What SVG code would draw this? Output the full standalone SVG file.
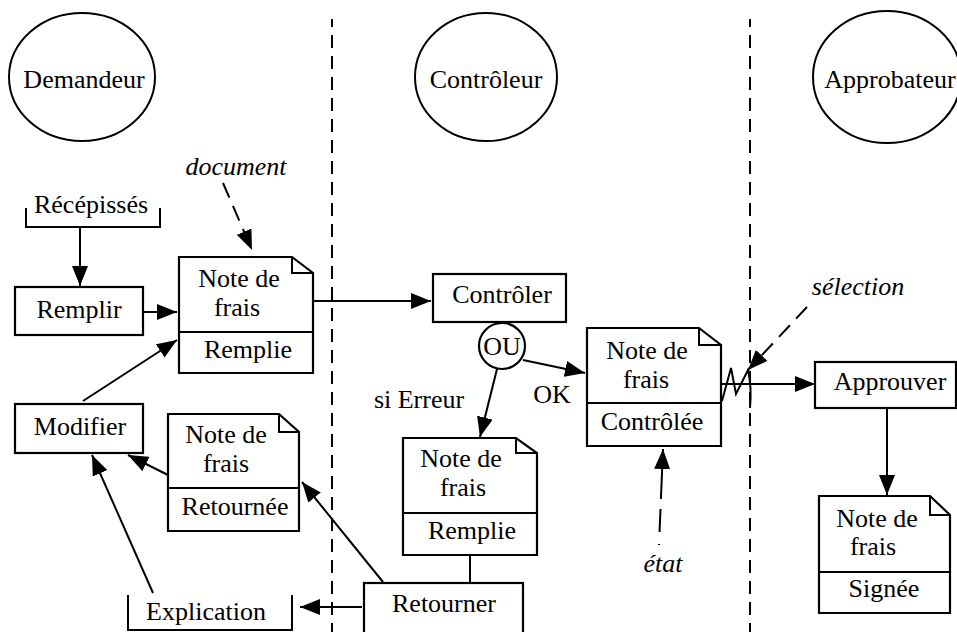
<svg xmlns="http://www.w3.org/2000/svg" width="957" height="632" viewBox="0 0 957 632">
<style>
text{font-family:"Liberation Serif","Times New Roman",serif;font-size:26px;fill:#000;text-anchor:middle}
.it{font-style:italic}
.s{fill:none;stroke:#000;stroke-width:2}
.b{fill:#fff;stroke:#000;stroke-width:2.2}
.lane{stroke:#000;stroke-width:2;stroke-dasharray:13 8;stroke-dashoffset:5;fill:none}
.c{fill:none;stroke:#000;stroke-width:2}
.d{fill:none;stroke:#000;stroke-width:2;stroke-dasharray:16 9}
</style>
<defs>
<marker id="ah" viewBox="0 0 20 16" refX="20" refY="8" markerWidth="20" markerHeight="16" markerUnits="userSpaceOnUse" orient="auto">
<path d="M0,0 L20,8 L0,16 Z" fill="#000"/>
</marker>
</defs>
<rect width="957" height="632" fill="#fff"/>
<g id="lanes">
<line class="lane" x1="332" y1="19" x2="332" y2="632"/>
<line class="lane" x1="750" y1="19" x2="750" y2="632"/>
</g>
<g id="actor-demandeur"><ellipse class="s" cx="82" cy="77" rx="73" ry="64"/><text x="84" y="88">Demandeur</text></g>
<g id="actor-controleur"><ellipse class="s" cx="486" cy="77" rx="71" ry="64"/><text x="486" y="88">Contrôleur</text></g>
<g id="actor-approbateur"><ellipse class="s" cx="887" cy="77" rx="74" ry="66"/><text x="890" y="88">Approbateur</text></g>

<g id="connectors">
<line class="c" x1="80" y1="227" x2="80" y2="286" marker-end="url(#ah)"/>
<line class="c" x1="143" y1="312" x2="177" y2="312" marker-end="url(#ah)"/>
<line class="c" x1="83" y1="401" x2="177" y2="340" marker-end="url(#ah)"/>
<line class="c" x1="313" y1="301" x2="431" y2="301" marker-end="url(#ah)"/>
<line class="c" x1="523" y1="360" x2="585" y2="373" marker-end="url(#ah)"/>
<line class="c" x1="497" y1="369" x2="480" y2="437" marker-end="url(#ah)"/>
<path class="c" d="M722,401 L731,368 L736,394 L748,370 Q752,388 750,408"/>
<line class="c" x1="722" y1="384" x2="815" y2="384" marker-end="url(#ah)"/>
<line class="c" x1="887" y1="408" x2="887" y2="495" marker-end="url(#ah)"/>
<line class="c" x1="168" y1="475" x2="128" y2="455" marker-end="url(#ah)"/>
<line class="c" x1="153" y1="593" x2="92" y2="455" marker-end="url(#ah)"/>
<line class="c" x1="383" y1="582" x2="302" y2="482" marker-end="url(#ah)"/>
<line class="c" x1="362" y1="607" x2="300" y2="607" marker-end="url(#ah)"/>
<line class="c" x1="470" y1="555" x2="470" y2="583"/>
<line class="d" x1="223" y1="183" x2="252" y2="250" marker-end="url(#ah)"/>
<line class="d" x1="807" y1="307" x2="748" y2="370" marker-end="url(#ah)"/>
<line class="c" x1="659" y1="545" x2="663" y2="449" stroke-dasharray="1 12 23 10 40" marker-end="url(#ah)"/>
</g>

<g id="recepisses"><path class="s" d="M26,208 V227 H160 V208"/><text x="91" y="213">Récépissés</text></g>
<g id="remplir"><rect class="b" x="15" y="287" width="128" height="48"/><text x="79" y="318">Remplir</text></g>
<g id="modifier"><rect class="b" x="15" y="404" width="128" height="49"/><text x="80" y="435">Modifier</text></g>
<g id="explication"><path class="s" d="M128,595 V630 H292 V595"/><text x="206" y="620">Explication</text></g>

<g id="note-remplie-1">
<path class="b" d="M179,257 H292 L313,273 V373 H179 Z"/>
<path class="s" d="M292,257 V273 H313"/>
<line class="s" x1="179" y1="332" x2="313" y2="332"/>
<text x="239" y="287">Note de</text><text x="237" y="316">frais</text><text x="248" y="358">Remplie</text>
</g>
<g id="note-retournee">
<path class="b" d="M168,414 H279 L299,432 V531 H168 Z"/>
<path class="s" d="M279,414 V432 H299"/>
<line class="s" x1="168" y1="488" x2="299" y2="488"/>
<text x="226" y="443">Note de</text><text x="226" y="472">frais</text><text x="235" y="515">Retournée</text>
</g>

<g id="controler"><rect class="b" x="433" y="274" width="133" height="48"/><text x="502" y="303">Contrôler</text></g>
<g id="ou"><circle class="b" cx="502" cy="346" r="23"/><text x="502" y="355">OU</text></g>
<g id="lbl-ok"><text x="552" y="403">OK</text></g>
<g id="lbl-erreur"><text x="419" y="408">si Erreur</text></g>

<g id="note-controlee">
<path class="b" d="M587,328 H699 L721,345 V446 H587 Z"/>
<path class="s" d="M699,328 V345 H721"/>
<line class="s" x1="587" y1="403" x2="721" y2="403"/>
<text x="647" y="359">Note de</text><text x="646" y="388">frais</text><text x="652" y="430">Contrôlée</text>
</g>
<g id="note-remplie-2">
<path class="b" d="M403,438 H516 L537,453 V555 H403 Z"/>
<path class="s" d="M516,438 V453 H537"/>
<line class="s" x1="403" y1="513" x2="537" y2="513"/>
<text x="461" y="467">Note de</text><text x="463" y="496">frais</text><text x="472" y="539">Remplie</text>
</g>
<g id="retourner"><rect class="b" x="364" y="583" width="159" height="60"/><text x="444" y="612">Retourner</text></g>

<g id="approuver"><rect class="b" x="815" y="362" width="141" height="46"/><text x="890" y="390">Approuver</text></g>
<g id="note-signee">
<path class="b" d="M819,496 H930 L950,515 V613 H819 Z"/>
<path class="s" d="M930,496 V515 H950"/>
<line class="s" x1="819" y1="572" x2="950" y2="572"/>
<text x="877" y="527">Note de</text><text x="873" y="555">frais</text><text x="884" y="597">Signée</text>
</g>

<g id="lbl-document"><text class="it" x="236" y="175">document</text></g>
<g id="lbl-selection"><text class="it" x="858" y="295">sélection</text></g>
<g id="lbl-etat"><text class="it" x="663" y="572">état</text></g>
</svg>
